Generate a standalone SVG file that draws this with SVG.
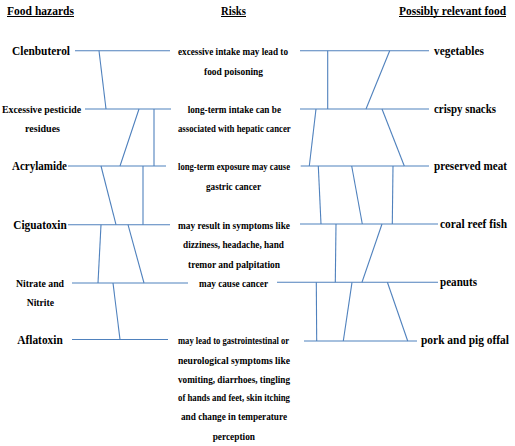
<svg xmlns="http://www.w3.org/2000/svg" width="515" height="446" viewBox="0 0 515 446">
<style>
text{font-family:"Liberation Serif","Times New Roman",serif;font-weight:bold;fill:#000}
.t{font-size:11.5px}
.s{font-size:10.5px}
.r{font-size:10.5px}
.u{stroke:#000;stroke-width:1}
#connectors line{stroke:#4f81bd;stroke-width:1.1}
</style>
<rect width="515" height="446" fill="#fff"/>
<g id="titles">
<text class="t" x="7" y="15" textLength="67" lengthAdjust="spacingAndGlyphs">Food hazards</text>
<line class="u" x1="7" y1="16.5" x2="74" y2="16.5"/>
<text class="t" x="221" y="15" textLength="25" lengthAdjust="spacingAndGlyphs">Risks</text>
<line class="u" x1="221" y1="16.5" x2="246" y2="16.5"/>
<text class="t" x="399" y="15" textLength="107" lengthAdjust="spacingAndGlyphs">Possibly relevant food</text>
<line class="u" x1="399" y1="16.5" x2="506" y2="16.5"/>
</g>
<g id="connectors">
<line x1="75" y1="50.7" x2="170" y2="50.7"/>
<line x1="85" y1="109" x2="171" y2="109"/>
<line x1="68" y1="166" x2="166" y2="166"/>
<line x1="68" y1="224.7" x2="170" y2="224.7"/>
<line x1="72" y1="283" x2="188" y2="283"/>
<line x1="72" y1="339.5" x2="168" y2="339.5"/>
<line x1="300" y1="50.7" x2="429" y2="50.7"/>
<line x1="300" y1="109" x2="429" y2="109"/>
<line x1="300.7" y1="166" x2="429" y2="166"/>
<line x1="300" y1="224" x2="438" y2="224"/>
<line x1="277" y1="282.3" x2="438" y2="282.3"/>
<line x1="304" y1="341" x2="417" y2="341"/>
<line x1="99" y1="50.7" x2="106" y2="109"/>
<line x1="139" y1="109" x2="120" y2="166"/>
<line x1="154" y1="109" x2="154" y2="166"/>
<line x1="101" y1="166" x2="116" y2="224.7"/>
<line x1="143" y1="166" x2="143" y2="224.7"/>
<line x1="101" y1="224.7" x2="98" y2="283"/>
<line x1="128" y1="224.7" x2="144" y2="283"/>
<line x1="113" y1="283" x2="120" y2="339.5"/>
<line x1="327.7" y1="50.7" x2="327.7" y2="109"/>
<line x1="389.7" y1="50.7" x2="366" y2="109"/>
<line x1="316" y1="109" x2="309.3" y2="166"/>
<line x1="382" y1="109" x2="404.3" y2="166"/>
<line x1="318.3" y1="166" x2="321" y2="224"/>
<line x1="351.7" y1="166" x2="362.3" y2="224"/>
<line x1="393" y1="166" x2="392.3" y2="224"/>
<line x1="336" y1="224" x2="335.3" y2="282.3"/>
<line x1="382" y1="224" x2="362" y2="282.3"/>
<line x1="316.3" y1="282.3" x2="316.7" y2="341"/>
<line x1="352" y1="282.3" x2="343.3" y2="341"/>
<line x1="387.4" y1="282.3" x2="407.7" y2="341"/>
</g>
<g id="hazard-clenbuterol"><text class="t" x="12" y="55" textLength="58" lengthAdjust="spacingAndGlyphs">Clenbuterol</text></g>
<g id="hazard-pesticide"><text class="s" x="2" y="112.8" textLength="79" lengthAdjust="spacingAndGlyphs">Excessive pesticide</text><text class="s" x="25" y="132" textLength="35" lengthAdjust="spacingAndGlyphs">residues</text></g>
<g id="hazard-acrylamide"><text class="t" x="12" y="170" textLength="55" lengthAdjust="spacingAndGlyphs">Acrylamide</text></g>
<g id="hazard-ciguatoxin"><text class="t" x="13.3" y="228.7" textLength="53.4" lengthAdjust="spacingAndGlyphs">Ciguatoxin</text></g>
<g id="hazard-nitrate"><text class="s" x="16" y="286.8" textLength="48" lengthAdjust="spacingAndGlyphs">Nitrate and</text><text class="s" x="26.7" y="305.5" textLength="27.3" lengthAdjust="spacingAndGlyphs">Nitrite</text></g>
<g id="hazard-aflatoxin"><text class="t" x="17.3" y="343.5" textLength="45.4" lengthAdjust="spacingAndGlyphs">Aflatoxin</text></g>
<g id="risk-poisoning">
<text class="r" x="178" y="54.8" textLength="110" lengthAdjust="spacingAndGlyphs">excessive intake may lead to</text>
<text class="r" x="204" y="74.6" textLength="59" lengthAdjust="spacingAndGlyphs">food poisoning</text>
</g>
<g id="risk-hepatic">
<text class="r" x="187.7" y="112.8" textLength="93.3" lengthAdjust="spacingAndGlyphs">long-term intake can be</text>
<text class="r" x="178" y="132" textLength="112.7" lengthAdjust="spacingAndGlyphs">associated with hepatic cancer</text>
</g>
<g id="risk-gastric">
<text class="r" x="178" y="169.8" textLength="112" lengthAdjust="spacingAndGlyphs">long-term exposure may cause</text>
<text class="r" x="206" y="189.8" textLength="55" lengthAdjust="spacingAndGlyphs">gastric cancer</text>
</g>
<g id="risk-symptoms">
<text class="r" x="178" y="228.5" textLength="112" lengthAdjust="spacingAndGlyphs">may result in symptoms like</text>
<text class="r" x="183" y="248.4" textLength="101" lengthAdjust="spacingAndGlyphs">dizziness, headache, hand</text>
<text class="r" x="188" y="267.8" textLength="92" lengthAdjust="spacingAndGlyphs">tremor and palpitation</text>
</g>
<g id="risk-cancer">
<text class="r" x="199" y="286.6" textLength="69" lengthAdjust="spacingAndGlyphs">may cause cancer</text>
</g>
<g id="risk-neuro">
<text class="r" x="178" y="343.6" textLength="111" lengthAdjust="spacingAndGlyphs">may lead to gastrointestinal or</text>
<text class="r" x="178" y="363.6" textLength="112" lengthAdjust="spacingAndGlyphs">neurological symptoms like</text>
<text class="r" x="178" y="382.6" textLength="112" lengthAdjust="spacingAndGlyphs">vomiting, diarrhoes, tingling</text>
<text class="r" x="178" y="401.4" textLength="112" lengthAdjust="spacingAndGlyphs">of hands and feet, skin itching</text>
<text class="r" x="181" y="420.4" textLength="106" lengthAdjust="spacingAndGlyphs">and change in temperature</text>
<text class="r" x="212.7" y="440.4" textLength="42.3" lengthAdjust="spacingAndGlyphs">perception</text>
</g>
<g id="food-vegetables"><text class="t" x="434" y="55" textLength="50" lengthAdjust="spacingAndGlyphs">vegetables</text></g>
<g id="food-crispy"><text class="t" x="434" y="113" textLength="62" lengthAdjust="spacingAndGlyphs">crispy snacks</text></g>
<g id="food-meat"><text class="t" x="434" y="170" textLength="73" lengthAdjust="spacingAndGlyphs">preserved meat</text></g>
<g id="food-fish"><text class="t" x="440" y="228" textLength="67" lengthAdjust="spacingAndGlyphs">coral reef fish</text></g>
<g id="food-peanuts"><text class="t" x="440" y="286" textLength="37" lengthAdjust="spacingAndGlyphs">peanuts</text></g>
<g id="food-pork"><text class="t" x="421" y="343.5" textLength="88" lengthAdjust="spacingAndGlyphs">pork and pig offal</text></g>
</svg>
